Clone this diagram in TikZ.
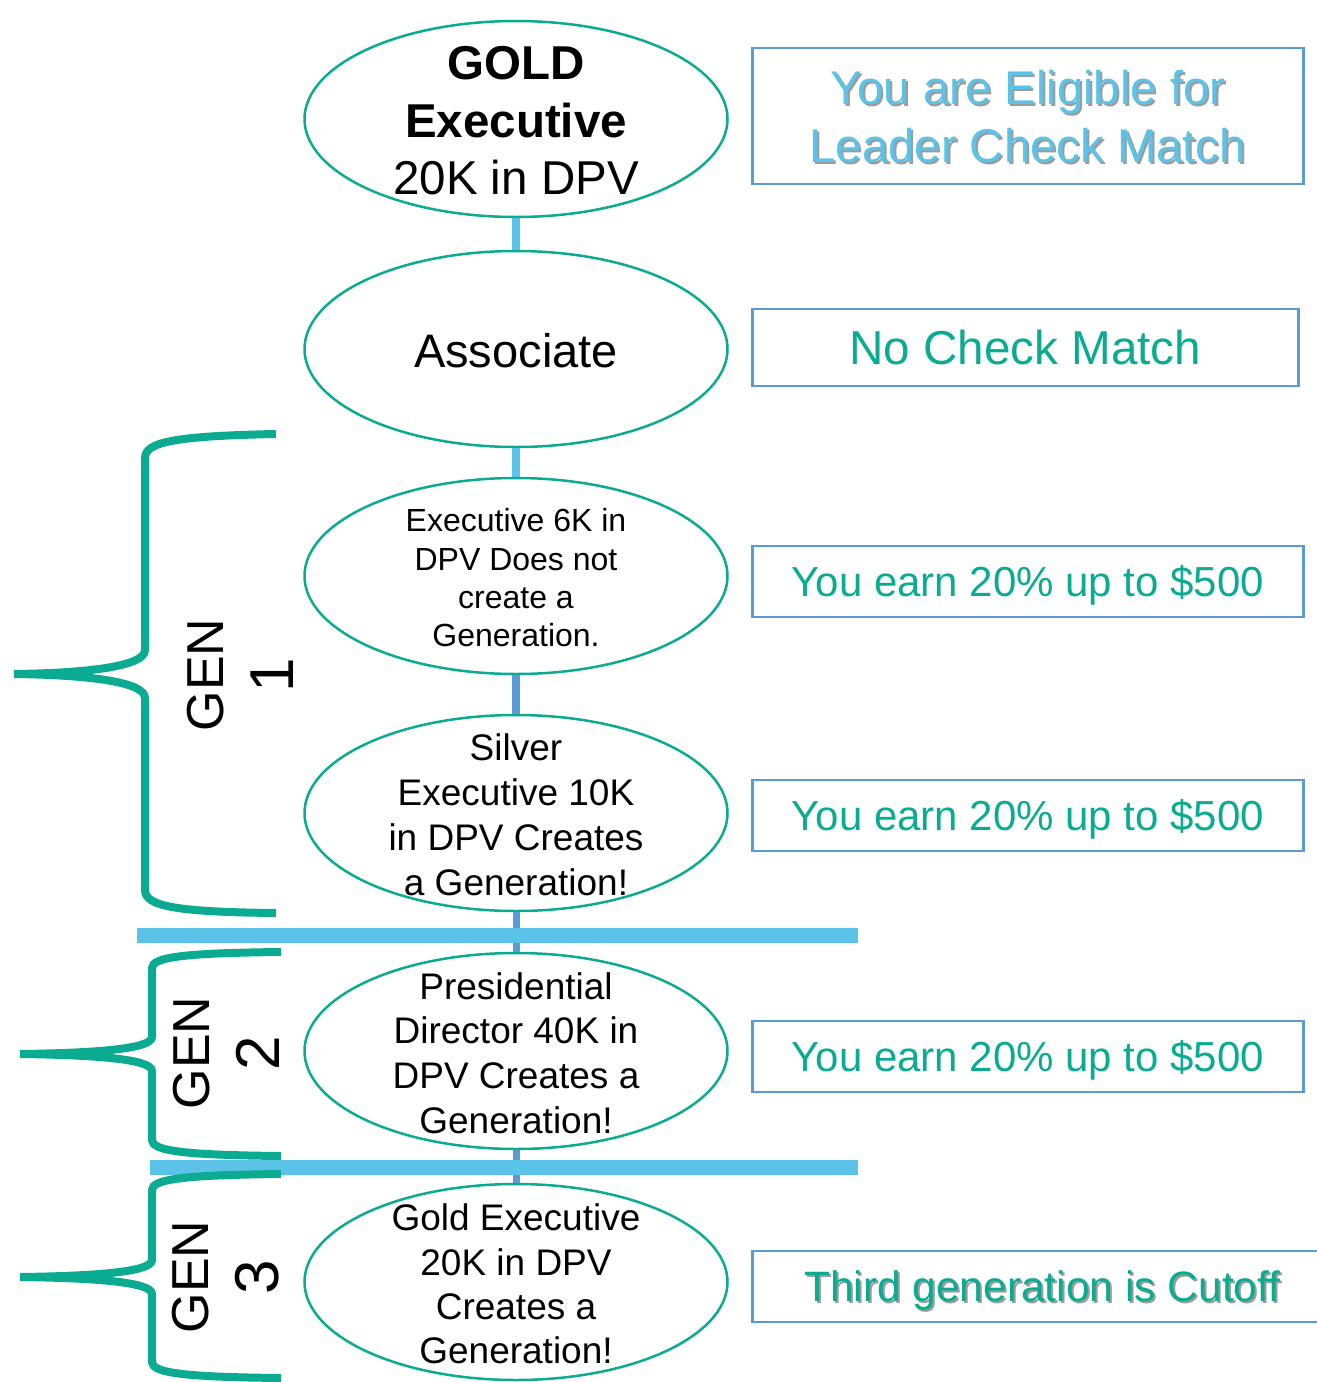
\documentclass[tikz,border=0pt]{standalone}
\usepackage{fontspec}
\setmainfont{Liberation Sans}
\usetikzlibrary{shapes.geometric}

\definecolor{genteal}{HTML}{0BAB92}
\definecolor{barblue}{HTML}{5BC3E8}
\definecolor{boxblue}{HTML}{5B9BD5}
\definecolor{shadowgray}{HTML}{9C9C9C}

\newcommand{\shtext}[1]{\leavevmode\rlap{\hspace{2pt}\raisebox{-2pt}{\color{shadowgray}#1}}#1}

\tikzset{
  stage/.style = {ellipse, draw = genteal, line width = 2.5pt, minimum width = 423pt, minimum height = 196pt, inner sep = 0pt},
  stagetext/.style = {align = center, inner sep = 0pt, yshift = -2pt},
  matchbox/.style = {rectangle, draw = boxblue, line width = 2.5pt, anchor = west, minimum height = 71pt, inner sep = 0pt, text height = 30pt, text depth = 0pt, text = genteal, font = \fontsize{42}{50}\selectfont},
  link/.style = {draw = barblue, line width = 8pt},
  darklink/.style = {draw = boxblue, line width = 8pt},
  genbar/.style = {draw = barblue, line width = 15pt},
  brace/.style = {draw = genteal, line width = 8pt},
  genlabel/.style = {rotate = 90, align = center, inner sep = 0pt, font = \fontsize{52}{70}\selectfont}
}

\begin{document}
\begin{tikzpicture}[x = 1pt, y = -1pt]
\useasboundingbox (0,0) rectangle (1317,1382);
% the ranks
\node[stage] (gold) at (516,119) {};
\node[stage] (assoc) at (516,349) {};
\node[stage] (exec) at (516,576) {};
\node[stage] (silver) at (516,813) {};
\node[stage] (pres) at (516,1051) {};
\node[stage] (goldexec) at (516,1282) {};
\node[stagetext, font = \fontsize{47.5}{57.5}\selectfont] (goldtxt) at (gold) {\textbf{GOLD}\\\textbf{Executive}\\20K in DPV};
\node[stagetext, font = \fontsize{47}{56}\selectfont] (assoctxt) at (assoc) {Associate};
\node[stagetext, font = \fontsize{32}{38.3}\selectfont] (exectxt) at (exec) {Executive 6K in\\DPV Does not\\create a\\Generation.};
\node[stagetext, font = \fontsize{37}{45}\selectfont] (silvertxt) at (silver) {Silver\\Executive 10K\\in DPV Creates\\a Generation!};
\node[stagetext, font = \fontsize{37}{44.7}\selectfont] (prestxt) at (pres) {Presidential\\Director 40K in\\DPV Creates a\\Generation!};
\node[stagetext, font = \fontsize{37}{44.3}\selectfont] (goldexectxt) at (goldexec) {Gold Executive\\20K in DPV\\Creates a\\Generation!};
% what you earn
\node[matchbox, minimum width = 551pt, minimum height = 136pt, text height = , text depth = -5pt, text = barblue, align = center, font = \fontsize{47.3}{58}\selectfont] (eligible) at (751,116) {\shtext{You are Eligible for}\\\shtext{Leader Check Match}};
\node[matchbox, minimum width = 546pt, minimum height = 77pt, text height = 34pt, font = \fontsize{47.6}{56}\selectfont] (nomatch) at (751,347.5) {No Check Match};
\node[matchbox, minimum width = 551pt] (earnone) at (751,581.5) {You earn 20\% up to \$500};
\node[matchbox, minimum width = 551pt] (earntwo) at (751,815.5) {You earn 20\% up to \$500};
\node[matchbox, minimum width = 551pt] (earnthree) at (751,1056.5) {You earn 20\% up to \$500};
\node[matchbox, minimum width = 580pt, font = \fontsize{42.5}{50}\selectfont] (cutoff) at (751,1286.5) {\shtext{Third generation is Cutoff}};
% links
\draw[link] (gold.south) -- (assoc.north);
\draw[link] (assoc.south) -- (exec.north);
\draw[darklink] (exec.south) -- (silver.north);
\draw[darklink, line width = 7pt] (silver.south) -- (pres.north);
\draw[darklink, line width = 7pt] (pres.south) -- (goldexec.north);
\draw[genbar] (137,935) -- (858,935);
\draw[genbar] (150,1167) -- (858,1167);
% braces
\draw[brace] (276,434) .. controls (175,436) and (145,442) .. (145,458) -- (145,650) .. controls (145,666) and (90,673) .. (14,674);
\draw[brace] (14,674) .. controls (90,675) and (145,682) .. (145,698) -- (145,890) .. controls (145,906) and (175,912) .. (276,913);
\draw[brace] (281,952) .. controls (185,953) and (152,957) .. (152,968) -- (152,1037) .. controls (152,1049) and (95,1053) .. (20,1054);
\draw[brace] (20,1054) .. controls (95,1055) and (152,1059) .. (152,1071) -- (152,1140) .. controls (152,1151) and (185,1155) .. (281,1156);
\draw[brace] (281,1174) .. controls (185,1175) and (152,1179) .. (152,1190) -- (152,1260) .. controls (152,1272) and (95,1276) .. (20,1277);
\draw[brace] (20,1277) .. controls (95,1278) and (152,1282) .. (152,1294) -- (152,1362) .. controls (152,1373) and (185,1377) .. (281,1378);
\node[genlabel] (genone) at (240,675) {GEN\\{\fontsize{62}{70}\selectfont 1}};
\node[genlabel] (gentwo) at (226,1053) {GEN\\{\fontsize{62}{70}\selectfont 2}};
\node[genlabel] (genthree) at (226,1277) {GEN\\{\fontsize{62}{70}\selectfont 3}};
\end{tikzpicture}
\end{document}
